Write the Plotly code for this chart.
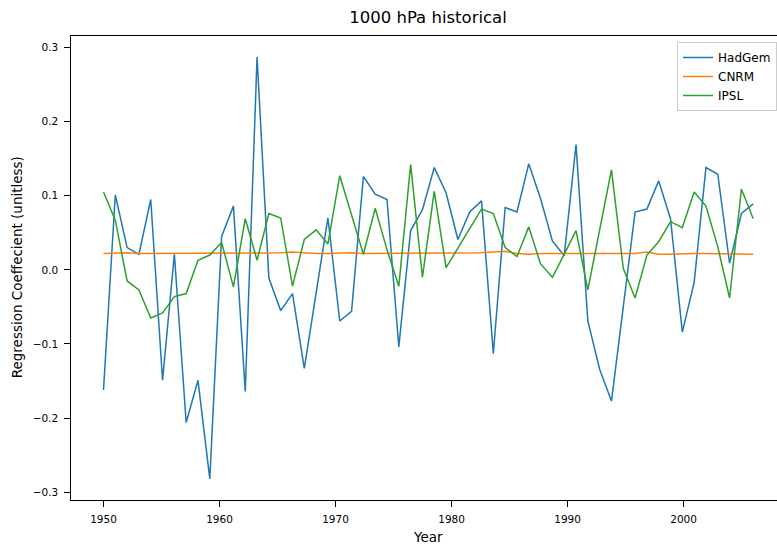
import numpy as np
import plotly.graph_objects as go

# Annual regression coefficients at 1000 hPa (historical runs), 56 samples 1950-2006
years = np.linspace(1950, 2006, 56)

hadgem = [
    -0.162, 0.101, 0.030, 0.021, 0.095, -0.149, 0.021, -0.206, -0.149, -0.282,
    0.045, 0.086, -0.164, 0.287, -0.011, -0.055, -0.032, -0.133, -0.031, 0.070,
    -0.069, -0.056, 0.126, 0.102, 0.095, -0.104, 0.053, 0.081, 0.138, 0.104,
    0.041, 0.078, 0.093, -0.113, 0.084, 0.078, 0.143, 0.096, 0.039, 0.019,
    0.169, -0.069, -0.134, -0.177, -0.050, 0.078, 0.082, 0.120, 0.069, -0.084,
    -0.017, 0.138, 0.129, 0.009, 0.076, 0.089,
]

cnrm = [
    0.022, 0.023, 0.023, 0.022, 0.022, 0.023, 0.022, 0.023, 0.023, 0.023,
    0.023, 0.023, 0.022, 0.023, 0.023, 0.023, 0.024, 0.023, 0.022, 0.022,
    0.023, 0.023, 0.022, 0.022, 0.022, 0.023, 0.022, 0.022, 0.022, 0.022,
    0.022, 0.023, 0.023, 0.024, 0.025, 0.022, 0.021, 0.022, 0.022, 0.022,
    0.022, 0.022, 0.022, 0.023, 0.022, 0.022, 0.024, 0.021, 0.021, 0.022,
    0.022, 0.022, 0.022, 0.022, 0.022, 0.021,
]

ipsl = [
    0.105, 0.067, -0.015, -0.027, -0.065, -0.058, -0.036, -0.032, 0.013, 0.020,
    0.037, -0.023, 0.069, 0.013, 0.076, 0.070, -0.022, 0.041, 0.054, 0.035,
    0.127, 0.074, 0.021, 0.083, 0.027, -0.022, 0.142, -0.010, 0.106, 0.003,
    0.029, 0.055, 0.082, 0.076, 0.030, 0.018, 0.058, 0.008, -0.010, 0.021,
    0.053, -0.027, 0.054, 0.135, 0.002, -0.038, 0.020, 0.038, 0.065, 0.057,
    0.105, 0.086, 0.031, -0.038, 0.109, 0.069,
]

series = [
    ("HadGem", hadgem, "#1f77b4"),
    ("CNRM", cnrm, "#ff7f0e"),
    ("IPSL", ipsl, "#2ca02c"),
]

FONT = "DejaVu Sans"
W, H = 777, 549
L, T, B = 70.5, 36, 48.5

fig = go.Figure()
for name, vals, color in series:
    fig.add_trace(go.Scatter(
        x=years, y=vals, name=name, mode="lines",
        line=dict(color=color, width=1.5),
    ))

axis_common = dict(
    showgrid=False, zeroline=False,
    showline=True, linecolor="black", linewidth=1.3,
    ticks="outside", ticklen=5.5, tickwidth=1.1, tickcolor="black",
    tickfont=dict(family=FONT, size=10.5, color="black"),
)

fig.update_layout(
    width=W, height=H,
    margin=dict(l=L, r=0, t=T, b=B, pad=0),
    paper_bgcolor="white", plot_bgcolor="white",
    font=dict(family=FONT, color="black"),
    showlegend=True,
    title=dict(
        text="1000 hPa historical",
        font=dict(family=FONT, size=16.5, color="black"),
        x=428 / W, xref="container", xanchor="center",
        y=1 - 17 / H, yref="container", yanchor="middle",
    ),
    xaxis=dict(
        axis_common, range=[1947.2, 2008.05], mirror=True,
        tickvals=[1950, 1960, 1970, 1980, 1990, 2000],
        ticklabelstandoff=4,
    ),
    yaxis=dict(
        axis_common, range=[-0.3105, 0.3155],
        tickvals=[-0.3, -0.2, -0.1, 0.0, 0.1, 0.2, 0.3],
        tickformat=".1f", ticklabelstandoff=4,
    ),
    legend=dict(
        x=(677 - L) / (W - L), y=(H - B - 42) / (H - T - B),
        xanchor="left", yanchor="top",
        bgcolor="rgba(255,255,255,0.8)", bordercolor="#cccccc", borderwidth=1,
        font=dict(family=FONT, size=12, color="black"),
        tracegroupgap=0, itemwidth=30,
    ),
)

# Axis labels placed in pixel terms relative to the plot area.
pw, ph = W - L, H - T - B
fig.add_annotation(
    text="Year", x=(428 - L) / pw, y=(H - B - 538) / ph,
    xref="paper", yref="paper", xanchor="center", yanchor="middle",
    showarrow=False, font=dict(family=FONT, size=13.5, color="black"),
)
fig.add_annotation(
    text="Regression Coeffecient (unitless)", x=(16 - L) / pw, y=(H - B - 268) / ph,
    xref="paper", yref="paper", xanchor="center", yanchor="middle",
    showarrow=False, textangle=-90, font=dict(family=FONT, size=13.5, color="black"),
)

fig.write_html("out.html")
